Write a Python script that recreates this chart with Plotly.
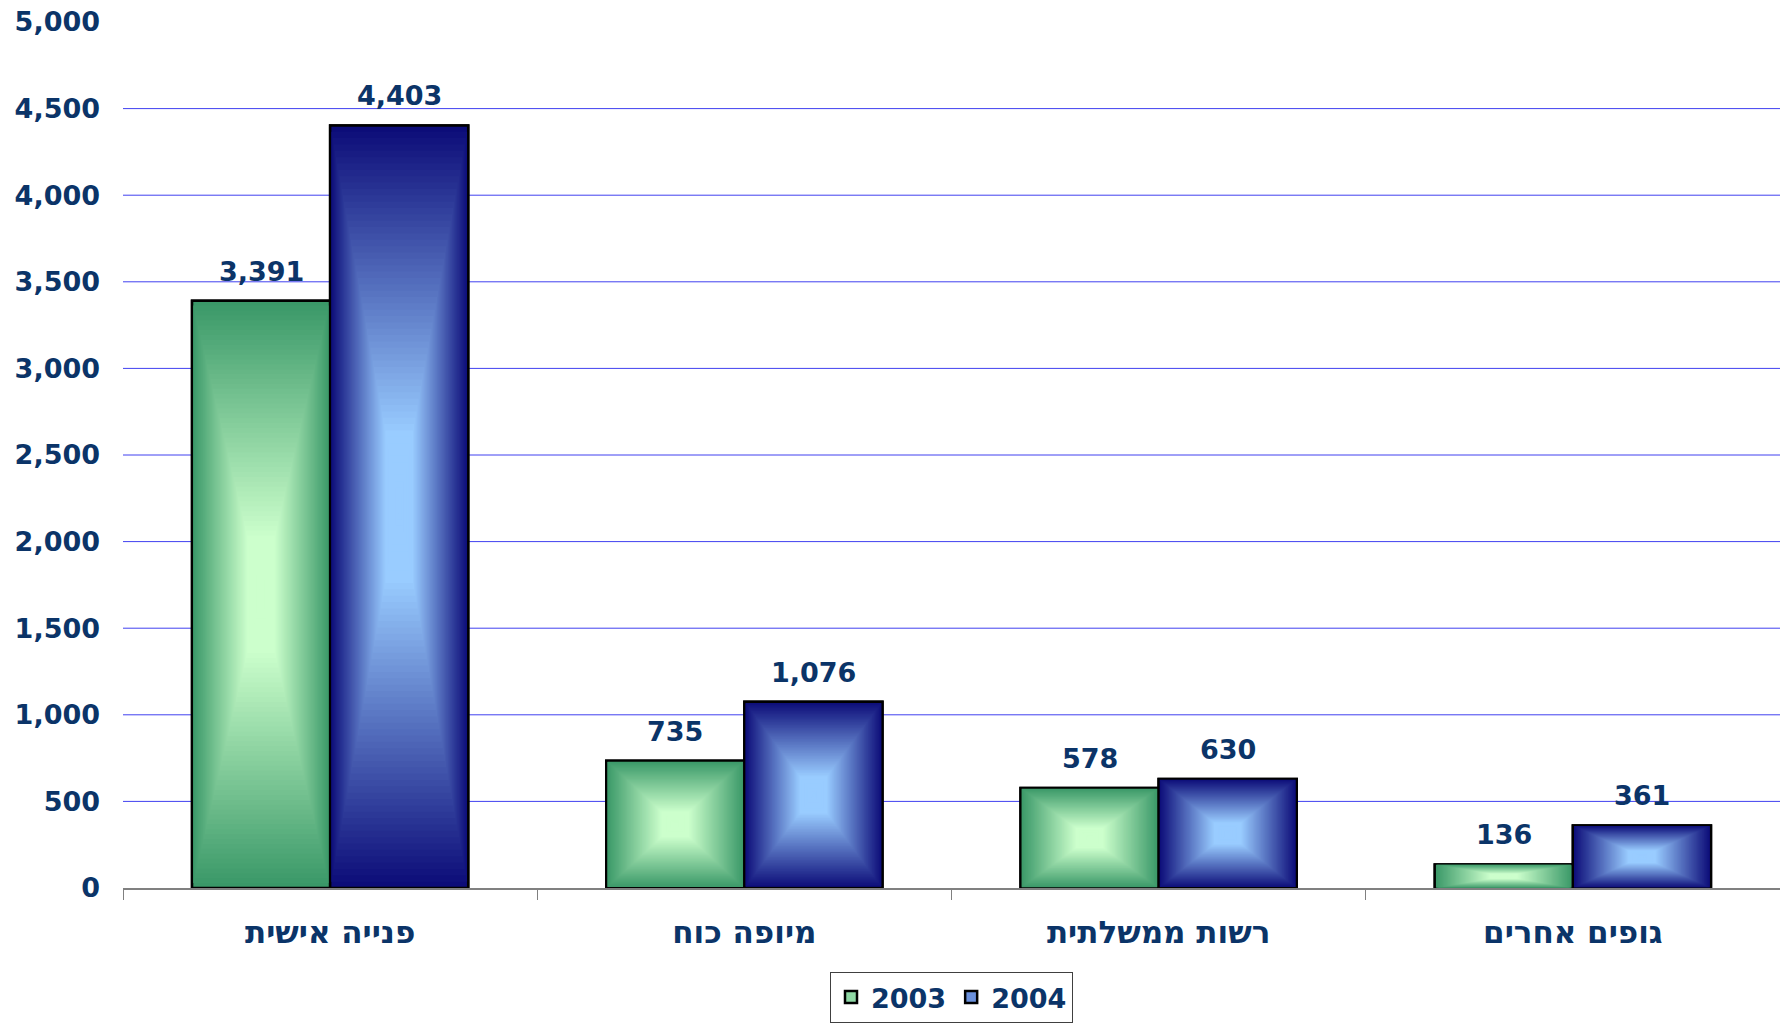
import plotly.graph_objects as go

categories = ["פנייה אישית", "מיופה כוח", "רשות ממשלתית", "גופים אחרים"]
values_2003 = [3391, 735, 578, 136]
values_2004 = [4403, 1076, 630, 361]
series_names = ["2003", "2004"]
y_ticks = [0, 500, 1000, 1500, 2000, 2500, 3000, 3500, 4000, 4500, 5000]
y_tick_text = ["0", "500", "1,000", "1,500", "2,000", "2,500", "3,000",
               "3,500", "4,000", "4,500", "5,000"]

NAVY = "#0b3468"
series = [
    dict(name=series_names[0], vals=values_2003, edge=(58, 152, 104), center=(204, 255, 204), mid="#8fd8a4", c=-1/6),
    dict(name=series_names[1], vals=values_2004, edge=(12, 12, 120), center=(153, 204, 255), mid="#6a90dc", c=1/6),
]
BW = 1/3
N = 60

def mix(a, b, t):
    return "rgb(%d,%d,%d)" % tuple(round(a[i] + (b[i] - a[i]) * t) for i in range(3))

fig = go.Figure()
xi = list(range(len(categories)))

# legend / base traces
for s in series:
    fig.add_trace(go.Bar(
        x=categories, y=s["vals"], name=s["name"], width=BW, offset=s["c"] - BW/2,
        marker=dict(color=s["mid"], line=dict(color="black", width=2.5)),
        showlegend=True, hoverinfo="skip"))

# gradient layers (rectangular, from center)
for s in series:
    for k in range(N):
        sc = 1 - k / N
        t = min(1.0, k / (0.8 * N))
        w = BW * sc
        fig.add_trace(go.Bar(
            x=categories,
            y=[v * sc for v in s["vals"]],
            base=[v * (1 - sc) / 2 for v in s["vals"]],
            width=w, offset=s["c"] - w/2,
            marker=dict(color=mix(s["edge"], s["center"], t),
                        line=dict(color="black", width=2.5 if k == 0 else 0)),
            showlegend=False, hoverinfo="skip"))

# value labels
for s in series:
    for i, v in zip(xi, s["vals"]):
        fig.add_annotation(x=i + s["c"], y=v, text=f"{v:,}", showarrow=False,
                           yanchor="bottom", yshift=12, xref="x", yref="y",
                           font=dict(family="DejaVu Sans", size=27, color=NAVY, weight="bold"))

# gridlines
for g in y_ticks[1:-1]:
    fig.add_shape(type="line", xref="paper", x0=0, x1=1, yref="y", y0=g, y1=g,
                  line=dict(color="#4040f0", width=1), layer="below")

fig.update_layout(
    width=1780, height=1023,
    margin=dict(l=123, r=0, t=22, b=135),
    barmode="overlay",
    paper_bgcolor="white", plot_bgcolor="white",
    showlegend=True,
    legend=dict(orientation="h", x=0.5, xanchor="center", yref="container", y=0, yanchor="bottom",
                bordercolor="#404040", borderwidth=1,
                font=dict(family="DejaVu Sans", size=27, color=NAVY, weight="bold")),
    xaxis=dict(type="category", range=[-0.5, 3.5], showline=True, linecolor="#808080", linewidth=1.5,
               ticks="outside", tickson="boundaries", ticklen=10, tickcolor="#808080", tickwidth=1,
               showgrid=False, ticklabelstandoff=16,
               tickfont=dict(family="DejaVu Sans", size=31, color=NAVY, weight="bold")),
    yaxis=dict(range=[0, 5000], tickvals=y_ticks, ticktext=y_tick_text, showgrid=False,
               zeroline=False, showline=False, ticks="", ticklabelstandoff=22,
               tickfont=dict(family="DejaVu Sans", size=27, color=NAVY, weight="bold")),
)

fig.write_html("out.html")
